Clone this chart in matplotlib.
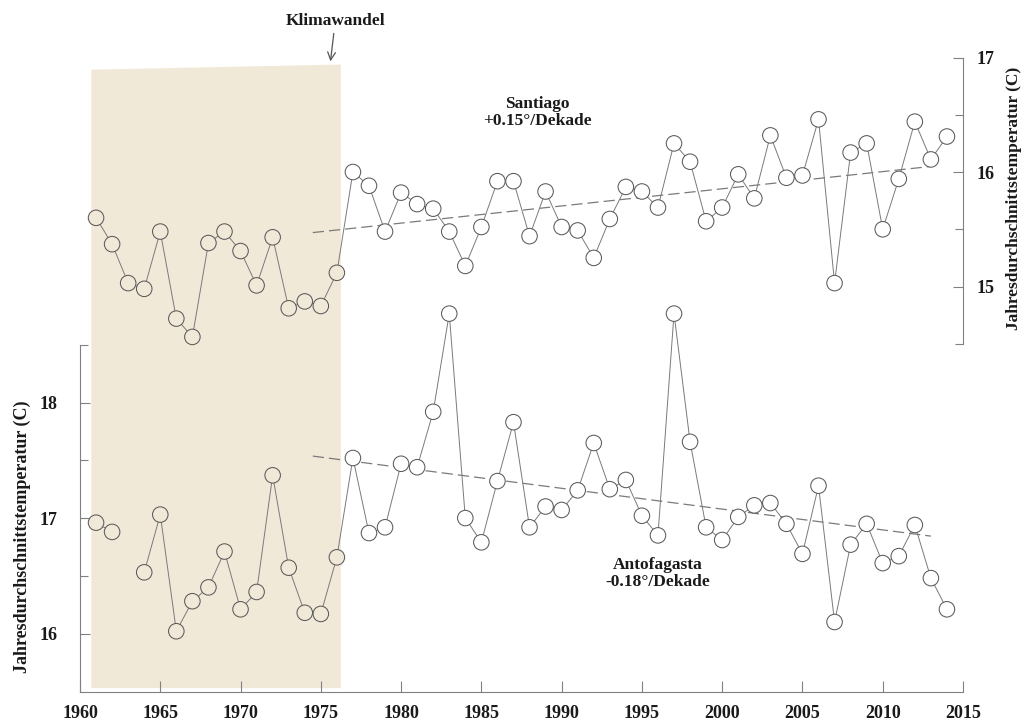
import numpy as np
import matplotlib
matplotlib.use('Agg')
import matplotlib.pyplot as plt
from matplotlib.patches import Polygon

# --- Annual mean temperatures (C) ---
years = np.arange(1961, 2015)

santiago = [15.60, 15.37, 15.03, 14.98, 15.48, 14.72, 14.56, 15.38, 15.48, 15.31,
            15.01, 15.43, 14.81, 14.87, 14.83, 15.12, 16.00, 15.88, 15.48, 15.82,
            15.72, 15.68, 15.48, 15.18, 15.52, 15.92, 15.92, 15.44, 15.83, 15.52,
            15.49, 15.25, 15.59, 15.87, 15.83, 15.69, 16.25, 16.09, 15.57, 15.69,
            15.98, 15.77, 16.32, 15.95, 15.97, 16.46, 15.03, 16.17, 16.25, 15.50,
            15.94, 16.44, 16.11, 16.31]

# 1963 is missing for Antofagasta
antofagasta = [16.96, 16.88, np.nan, 16.53, 17.03, 16.02, 16.28, 16.40, 16.71, 16.21,
               16.36, 17.37, 16.57, 16.18, 16.17, 16.66, 17.52, 16.87, 16.92, 17.47,
               17.44, 17.92, 18.77, 17.00, 16.79, 17.32, 17.83, 16.92, 17.10, 17.07,
               17.24, 17.65, 17.25, 17.33, 17.02, 16.85, 18.77, 17.66, 16.92, 16.81,
               17.01, 17.11, 17.13, 16.95, 16.69, 17.28, 16.10, 16.77, 16.95, 16.61,
               16.67, 16.94, 16.48, 16.21]

# --- Trends (degrees per decade) ---
trend_years = [1974.5, 2013.0]
santiago_slope = 0.15
santiago_mid = (1993.75, 15.76)
antofagasta_slope = -0.18
antofagasta_mid = (1993.75, 17.19)

shade_years = (1960.7, 1976.25)
x_ticks = np.arange(1960, 2016, 5)

BEIGE = '#f1e9d8'
LINE = '#7a7a7a'
EDGE = '#5a5a5a'
TEXT = '#1a1a1a'
FONT = 'Liberation Serif'

plt.rcParams['font.family'] = FONT
plt.rcParams['font.weight'] = 'bold'

fig = plt.figure(figsize=(10.26, 7.22), dpi=100)
ax = fig.add_axes([80 / 1026, 30 / 722, 883 / 1026, 637 / 722])
ax.set_xlim(1960, 2015)
ax.set_ylim(15.494, 21.009)
ax2 = ax.twinx()
ax2.set_ylim(11.459, 17.022)

# shaded pre-change period, top edge slightly slanted
x0, x1 = shade_years
shade = Polygon([(x0, 0.006), (x1, 0.006), (x1, 0.985), (x0, 0.977)],
                closed=True, facecolor=BEIGE, edgecolor='none',
                transform=ax.get_xaxis_transform(), zorder=0)
ax.add_patch(shade)


def trend(mid, slope):
    my, mv = mid
    return [mv + (y - my) * slope / 10 for y in trend_years]


def draw_series(axis, values, mid, slope):
    vals = np.array(values)
    axis.plot(years, vals, color=LINE, lw=0.7, zorder=2)
    axis.plot(trend_years, trend(mid, slope), color=LINE, lw=0.9,
              dashes=(9, 4), zorder=1)
    faces = [BEIGE if x0 < y < x1 else 'white' for y in years]
    ok = ~np.isnan(vals)
    axis.scatter(years[ok], vals[ok], s=125, facecolors=np.array(faces)[ok],
                 edgecolors=EDGE, linewidths=0.75, zorder=3)


draw_series(ax, antofagasta, antofagasta_mid, antofagasta_slope)
draw_series(ax2, santiago, santiago_mid, santiago_slope)

# spines
for s in ['top', 'right']:
    ax.spines[s].set_visible(False)
for s in ['top', 'left', 'bottom']:
    ax2.spines[s].set_visible(False)
ax.spines['left'].set_bounds(15.494, 18.5)
ax2.spines['right'].set_bounds(14.5, 17.0)
for sp in [ax.spines['left'], ax.spines['bottom'], ax2.spines['right']]:
    sp.set_color('#808080')
    sp.set_linewidth(0.8)

# ticks
ax.set_xticks(x_ticks)
ax.set_xticklabels([str(t) for t in x_ticks])
ax.set_yticks([16, 17, 18])
ax.set_yticks([16.5, 17.5, 18.5], minor=True)
ax2.set_yticks([15, 16, 17])
ax2.set_yticks([14.5, 15.5, 16.5], minor=True)
for a in [ax, ax2]:
    a.tick_params(which='both', direction='in', color='#808080', width=0.8,
                  labelsize=13, labelcolor=TEXT)
    a.tick_params(which='major', length=7)
    a.tick_params(which='minor', length=6)
ax.tick_params(axis='x', length=8, pad=9)
ax.tick_params(axis='y', pad=16)
ax2.tick_params(axis='y', pad=10)

# axis titles
ylab = 'Jahresdurchschnittstemperatur (C)'
fig.text(22 / 1026, 1 - 537 / 722, ylab, rotation=90, ha='center', va='center',
         fontsize=13, fontweight='bold', color=TEXT)
fig.text(1014 / 1026, 1 - 198 / 722, ylab, rotation=90, ha='center', va='center',
         fontsize=12.5, fontweight='bold', color=TEXT)

# series labels
ax2.text(1988.5, 16.52, 'Santiago\n+0.15°/Dekade', ha='center', va='center',
         fontsize=12.5, fontweight='bold', color=TEXT, linespacing=1.15)
ax.text(1996.0, 16.52, 'Antofagasta\n-0.18°/Dekade', ha='center', va='center',
        fontsize=12.5, fontweight='bold', color=TEXT, linespacing=1.15)

# climate change marker
ax.annotate('Klimawandel', xy=(1975.6, 0.99), xytext=(1975.9, 1.053),
            xycoords=ax.get_xaxis_transform(), textcoords=ax.get_xaxis_transform(),
            ha='center', va='center', fontsize=12.5, fontweight='bold', color=TEXT,
            arrowprops=dict(arrowstyle='->', color='#555555', lw=0.9,
                            shrinkA=1, shrinkB=0, mutation_scale=14))

fig.savefig('out.png', dpi=100)
